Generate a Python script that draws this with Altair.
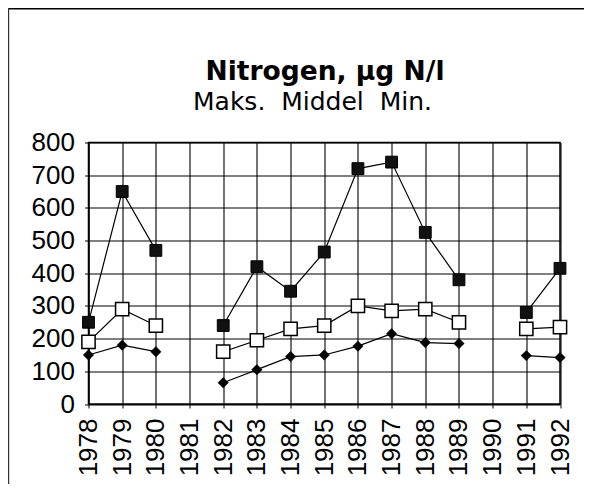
import altair as alt
import pandas as pd

years = [1978, 1979, 1980, 1981, 1982, 1983, 1984, 1985, 1986, 1987, 1988, 1989, 1990, 1991, 1992]
maks = [250, 650, 470, None, 240, 420, 345, 465, 720, 740, 525, 380, None, 280, 415]
middel = [190, 290, 240, None, 160, 195, 230, 240, 300, 285, 290, 250, None, 230, 235]
minimum = [150, 180, 160, None, 65, 105, 145, 150, 177, 215, 188, 185, None, 148, 142]
y_ticks = [0, 100, 200, 300, 400, 500, 600, 700, 800]
title_text = "Nitrogen, µg N/l"
subtitle_text = "Maks.\u00a0 Middel\u00a0 Min."

rows = []
for name, vals in [("Maks.", maks), ("Middel", middel), ("Min.", minimum)]:
    seg = 0
    for yr, v in zip(years, vals):
        if v is None:
            seg += 1
            continue
        rows.append({"year": yr, "value": v, "series": name, "seg": f"{name}-{seg}"})
df = pd.DataFrame(rows)

W, H = 471.5, 261.5
PAD = {"left": 80.5, "top": 134.5, "right": 24, "bottom": 80}

x = alt.X("year:O", scale=alt.Scale(type="point", padding=0, domain=years),
          axis=alt.Axis(title=None, labelAngle=-90, labelOverlap=False, grid=True))
y = alt.Y("value:Q", scale=alt.Scale(domain=[0, 800], nice=False),
          axis=alt.Axis(title=None, values=y_ticks, labelOverlap=False, labelFlush=False, grid=True))

base = alt.Chart(df)

lines = base.mark_line(color="black", strokeWidth=1.2).encode(x=x, y=y, detail="seg:N")

p_max = base.transform_filter(alt.datum.series == "Maks.").mark_point(
    shape="square", filled=True, fill="#111", stroke="black", strokeWidth=1, size=140, opacity=1
).encode(x=x, y=y)
p_mid = base.transform_filter(alt.datum.series == "Middel").mark_point(
    shape="square", filled=False, fill="white", stroke="black", strokeWidth=1.5, size=175, opacity=1, fillOpacity=1
).encode(x=x, y=y)
p_min = base.transform_filter(alt.datum.series == "Min.").mark_point(
    shape="diamond", filled=True, fill="black", stroke="black", strokeWidth=0.5, size=110, opacity=1
).encode(x=x, y=y)

one = pd.DataFrame({"t": [title_text], "s": [subtitle_text]})
frame_top = alt.Chart(one).mark_rule(color="black", strokeWidth=1.6).encode(
    x=alt.value(-PAD["left"]), x2=alt.value(W + PAD["right"]), y=alt.value(-PAD["top"] + 0.8))
frame_left = alt.Chart(one).mark_rule(color="#333", strokeWidth=1.2).encode(
    x=alt.value(-PAD["left"] + 0.6), y=alt.value(-PAD["top"]), y2=alt.value(H + PAD["bottom"]))

title = alt.Chart(one).mark_text(
    font="DejaVu Sans", fontSize=26.5, fontWeight="bold", color="black",
    align="center", baseline="alphabetic"
).encode(text="t:N", x=alt.value(236.5), y=alt.value(-63))
subtitle = alt.Chart(one).mark_text(
    font="DejaVu Sans", fontSize=25, color="black",
    align="center", baseline="alphabetic"
).encode(text="s:N", x=alt.value(224), y=alt.value(-32.5))

chart = alt.layer(lines, p_max, p_mid, p_min, frame_top, frame_left, title, subtitle).properties(
    width=W, height=H,
    autosize="none",
    padding=PAD,
    background="white",
).configure_view(stroke="black", strokeWidth=1.5).configure_axis(
    domainColor="black", domainWidth=1.2, gridColor="black", gridWidth=1.1, gridOpacity=1,
    tickColor="black", tickSize=4, tickWidth=1,
    labelFont="Liberation Sans", labelFontSize=26, labelColor="black", labelPadding=10,
)

chart.save("out.html", embed_options={"renderer": "svg", "actions": False})
